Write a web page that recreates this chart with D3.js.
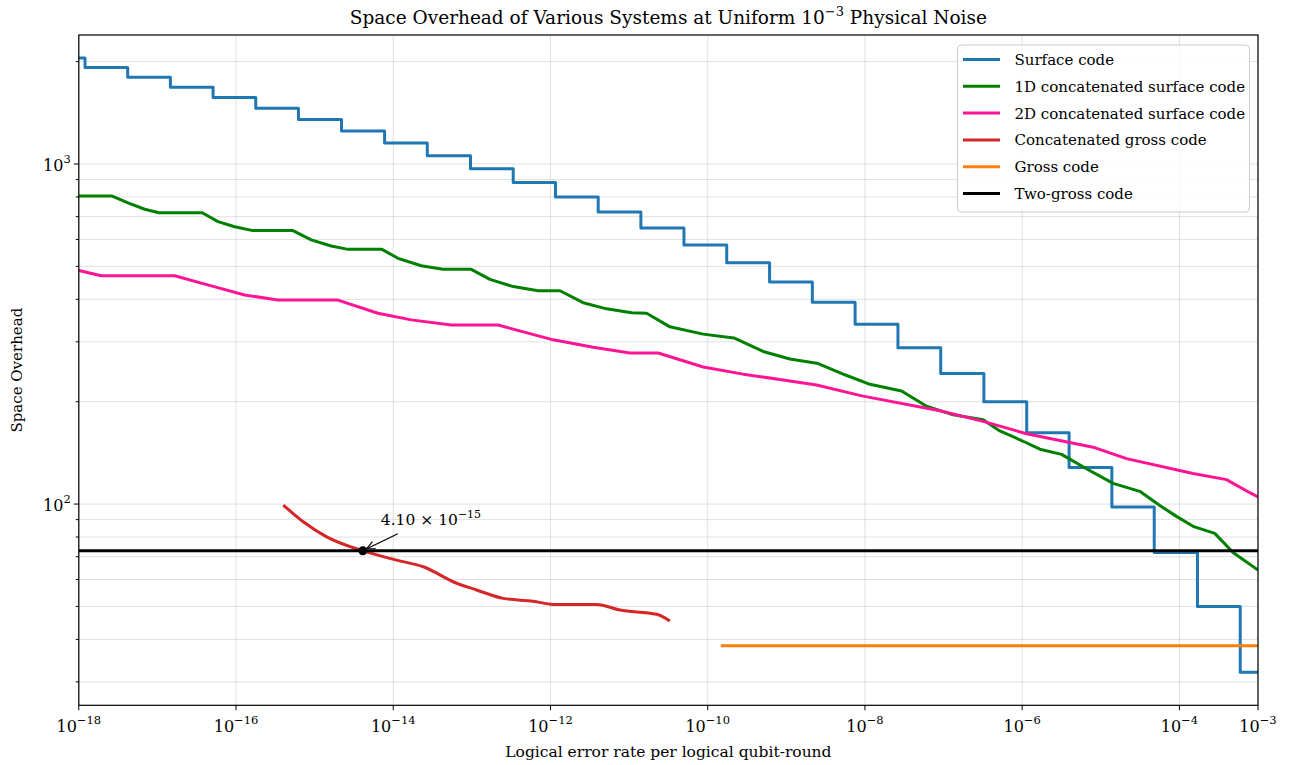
<!DOCTYPE html>
<html>
<head>
<meta charset="utf-8">
<script src="https://cdn.jsdelivr.net/npm/d3@7"></script>
<style>
  body { margin: 0; background: #fff; }
  svg { display: block; font-family: "DejaVu Serif", "Liberation Serif", serif; }
</style>
</head>
<body>
<svg id="chart" width="1298" height="765"></svg>
<script>
// values (x stored as log10 of the error rate)
var surfaceLogErr = [-18.000, -17.921, -17.378, -16.835, -16.292, -15.749, -15.206, -14.658, -14.110, -13.567,
  -13.017, -12.474, -11.936, -11.393, -10.850, -10.302, -9.758, -9.213, -8.669, -8.125,
  -7.580, -7.036, -6.487, -5.942, -5.403, -4.859, -4.320, -3.770, -3.226, -3.000];
var surfaceOverhead = [2048, 1922, 1800, 1682, 1568, 1458, 1352, 1250, 1152, 1058,
  968, 882, 800, 722, 648, 578, 512, 450, 392, 338,
  288, 242, 200, 162, 128, 98, 72, 50, 32, 32];

var conc1dLogErr = [-18.000, -17.574, -17.374, -17.162, -16.980, -16.429, -16.230, -16.017, -15.785, -15.276,
  -15.043, -14.789, -14.576, -14.144, -13.940, -13.644, -13.368, -13.008, -12.770, -12.474,
  -12.156, -11.880, -11.584, -11.286, -10.968, -10.777, -10.481, -10.058, -9.667, -9.295,
  -8.955, -8.595, -8.255, -7.937, -7.534, -7.216, -6.878, -6.496, -6.284, -5.987,
  -5.775, -5.499, -5.182, -4.843, -4.504, -4.249, -4.037, -3.826, -3.550, -3.317, -3.000];
var conc1dOverhead = [805, 805, 769, 736, 719, 719, 677, 654, 637, 637,
  598, 574, 561, 561, 528, 502, 490, 490, 458, 436,
  424, 424, 391, 375, 365, 364, 332, 316, 308, 281,
  267, 259, 240, 225, 215, 194, 183, 177, 164, 153,
  145, 140, 127, 115, 109, 99, 92, 86, 82, 72, 64];

var conc2dLogErr = [-18.000, -17.714, -16.780, -16.315, -15.890, -15.467, -14.704, -14.195, -13.771, -13.263,
  -12.665, -11.965, -11.457, -10.990, -10.630, -10.058, -9.549, -8.997, -8.615, -8.039,
  -7.047, -6.496, -5.945, -5.098, -4.673, -3.826, -3.401, -3.104, -3.000];
var conc2dOverhead = [486, 469, 469, 438, 412, 398, 398, 364, 348, 336,
  336, 304, 289, 278, 278, 253, 241, 231, 224, 208,
  188, 175, 161, 147, 136, 123, 118, 108, 105];

var grossConcLogErr = [-15.399, -15.145, -14.847, -14.382, -13.957, -13.619, -13.194, -12.940, -12.601, -12.220,
  -11.965, -11.413, -11.117, -10.650, -10.481];
var grossConcOverhead = [99.3, 88.7, 80.1, 72.8, 68.4, 65.4, 58.5, 55.9, 52.8, 51.8,
  50.7, 50.7, 48.8, 47.4, 45.3];

var grossLogErr = [-9.833, -3.000];
var grossOverhead = [38.3, 38.3];

var twoGrossLogErr = [-18.000, -3.000];
var twoGrossOverhead = [72.9, 72.9];

var crossErr = 4.10e-15, crossOverhead = 72.9;

var xTickExp = [-18, -16, -14, -12, -10, -8, -6, -4, -3];
var yMajor = [100, 1000];
var yMinor = [30, 40, 50, 60, 70, 80, 90, 200, 300, 400, 500, 600, 700, 800, 900, 2000];

var series = [
  { name: 'Surface code', color: '#1f77b4', e: surfaceLogErr, v: surfaceOverhead, curve: d3.curveStepAfter },
  { name: '1D concatenated surface code', color: '#008000', e: conc1dLogErr, v: conc1dOverhead, curve: d3.curveLinear },
  { name: '2D concatenated surface code', color: '#ff1493', e: conc2dLogErr, v: conc2dOverhead, curve: d3.curveLinear },
  { name: 'Concatenated gross code', color: '#d62728', e: grossConcLogErr, v: grossConcOverhead, curve: d3.curveMonotoneX },
  { name: 'Gross code', color: '#ff7f0e', e: grossLogErr, v: grossOverhead, curve: d3.curveLinear },
  { name: 'Two-gross code', color: '#000000', e: twoGrossLogErr, v: twoGrossOverhead, curve: d3.curveLinear }
];

// plot box
var plotL = 78.8, plotR = 1258, plotT = 35, plotB = 705.3;

var x = d3.scaleLog().domain([1e-18, 1e-3]).range([plotL, plotR]);
var y = d3.scaleLog().domain([25.6, 2395]).range([plotB, plotT]);

var svg = d3.select('#chart');

svg.append('clipPath').attr('id', 'plotClip')
  .append('rect')
  .attr('x', plotL).attr('y', plotT)
  .attr('width', plotR - plotL).attr('height', plotB - plotT);

// grid
var grid = svg.append('g').attr('stroke', '#b0b0b0').attr('stroke-opacity', 0.38).attr('stroke-width', 1);
grid.selectAll('line.h')
  .data(yMajor.concat(yMinor))
  .enter().append('line')
  .attr('x1', plotL).attr('x2', plotR)
  .attr('y1', function (d) { return y(d); })
  .attr('y2', function (d) { return y(d); });
grid.selectAll('line.v')
  .data(xTickExp)
  .enter().append('line')
  .attr('y1', plotT).attr('y2', plotB)
  .attr('x1', function (d) { return x(Math.pow(10, d)); })
  .attr('x2', function (d) { return x(Math.pow(10, d)); });

// series lines
var plot = svg.append('g').attr('clip-path', 'url(#plotClip)');

series.forEach(function (s) {
  var pts = s.e.map(function (e, i) { return [Math.pow(10, e), s.v[i]]; });
  var line = d3.line()
    .x(function (d) { return x(d[0]); })
    .y(function (d) { return y(d[1]); })
    .curve(s.curve);
  plot.append('path')
    .datum(pts)
    .attr('d', line)
    .attr('fill', 'none')
    .attr('stroke', s.color)
    .attr('stroke-width', 3)
    .attr('stroke-linejoin', 'round')
    .attr('stroke-linecap', 'butt');
});

// crossing point and annotation
var cx = x(crossErr), cy = y(crossOverhead);
svg.append('circle').attr('cx', cx).attr('cy', cy).attr('r', 4.5).attr('fill', '#000');

var tail = [cx + 35, cy - 17], head = [cx + 4, cy - 2];
var ang = Math.atan2(head[1] - tail[1], head[0] - tail[0]);
svg.append('line')
  .attr('x1', tail[0]).attr('y1', tail[1]).attr('x2', head[0]).attr('y2', head[1])
  .attr('stroke', '#000').attr('stroke-width', 1.2);
[0.45, -0.45].forEach(function (da) {
  svg.append('line')
    .attr('x1', head[0]).attr('y1', head[1])
    .attr('x2', head[0] - 9 * Math.cos(ang + da)).attr('y2', head[1] - 9 * Math.sin(ang + da))
    .attr('stroke', '#000').attr('stroke-width', 1.2);
});

var annot = svg.append('text')
  .attr('x', cx + 18).attr('y', cy - 26)
  .attr('font-size', 15.5);
annot.append('tspan').text('4.10 \u00d7 10');
annot.append('tspan').attr('dy', -7).attr('font-size', 11).text('\u221215');

// spine
svg.append('rect')
  .attr('x', plotL).attr('y', plotT)
  .attr('width', plotR - plotL).attr('height', plotB - plotT)
  .attr('fill', 'none').attr('stroke', '#000').attr('stroke-width', 1.2);

// ticks
var ticks = svg.append('g').attr('stroke', '#000').attr('stroke-width', 1);
ticks.selectAll('line.xt')
  .data(xTickExp)
  .enter().append('line')
  .attr('x1', function (d) { return x(Math.pow(10, d)); })
  .attr('x2', function (d) { return x(Math.pow(10, d)); })
  .attr('y1', plotB).attr('y2', plotB + 5);
ticks.selectAll('line.ym')
  .data(yMajor)
  .enter().append('line')
  .attr('x1', plotL - 5).attr('x2', plotL)
  .attr('y1', function (d) { return y(d); })
  .attr('y2', function (d) { return y(d); });
ticks.selectAll('line.yn')
  .data(yMinor)
  .enter().append('line')
  .attr('x1', plotL - 3).attr('x2', plotL)
  .attr('y1', function (d) { return y(d); })
  .attr('y2', function (d) { return y(d); });

// tick labels
var xl = svg.append('g').attr('font-size', 16).attr('text-anchor', 'middle');
xTickExp.forEach(function (d) {
  var t = xl.append('text').attr('x', x(Math.pow(10, d))).attr('y', plotB + 27);
  t.append('tspan').text('10');
  t.append('tspan').attr('dy', -8).attr('font-size', 11.5).text('\u2212' + Math.abs(d));
});

var yl = svg.append('g').attr('font-size', 16).attr('text-anchor', 'end');
yMajor.forEach(function (d) {
  var t = yl.append('text').attr('x', plotL - 8).attr('y', y(d) + 7);
  t.append('tspan').text('10');
  t.append('tspan').attr('dy', -8).attr('font-size', 11.5).text(String(Math.round(Math.log10(d))));
});

// axis labels and title
svg.append('text')
  .attr('x', (plotL + plotR) / 2).attr('y', 757)
  .attr('text-anchor', 'middle').attr('font-size', 15.5)
  .text('Logical error rate per logical qubit-round');

svg.append('text')
  .attr('transform', 'translate(22,' + ((plotT + plotB) / 2) + ') rotate(-90)')
  .attr('text-anchor', 'middle').attr('font-size', 15)
  .text('Space Overhead');

var title = svg.append('text')
  .attr('x', (plotL + plotR) / 2).attr('y', 24)
  .attr('text-anchor', 'middle').attr('font-size', 18.5);
title.append('tspan').text('Space Overhead of Various Systems at Uniform 10');
title.append('tspan').attr('dy', -8).attr('font-size', 13).text('\u22123');
title.append('tspan').attr('dy', 8).text(' Physical Noise');

// legend
var lg = svg.append('g');
lg.append('rect')
  .attr('x', 957.5).attr('y', 45)
  .attr('width', 292).attr('height', 167)
  .attr('rx', 4)
  .attr('fill', '#fff').attr('fill-opacity', 0.85)
  .attr('stroke', '#cccccc').attr('stroke-width', 1);

series.forEach(function (s, i) {
  var ly = 59.5 + i * 26.8;
  lg.append('line')
    .attr('x1', 963).attr('x2', 1000)
    .attr('y1', ly).attr('y2', ly)
    .attr('stroke', s.color).attr('stroke-width', 3);
  lg.append('text')
    .attr('x', 1014.5).attr('y', ly + 5.5)
    .attr('font-size', 15)
    .text(s.name);
});
</script>
</body>
</html>
